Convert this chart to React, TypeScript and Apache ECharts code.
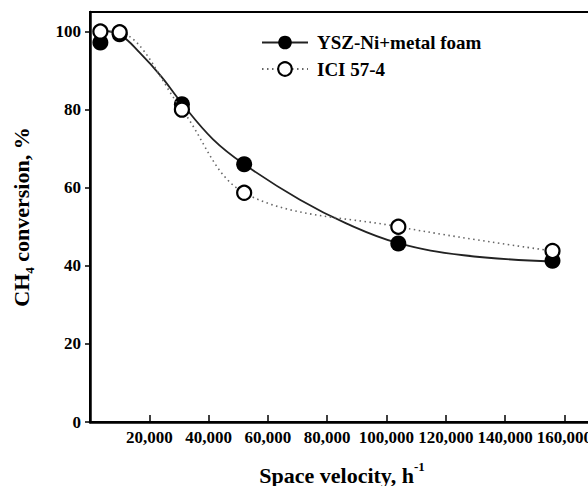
import React, { useEffect, useRef } from "react";
import * as echarts from "echarts";

// Space velocity (h^-1) of the measured points
const spaceVelocity = [3500, 10000, 31000, 52000, 104000, 156000];
// CH4 conversion, %
const foamConversion = [97.2, 99.3, 81.4, 66.0, 45.7, 41.3];
const iciConversion = [100.0, 99.8, 80.0, 58.7, 50.0, 43.8];
// Fitted curve for YSZ-Ni+metal foam
const fitVelocity = [3500, 10000, 17000, 24000, 31000, 41500, 52000, 70800, 86600, 104000, 126000, 156000];
const fitConversion = [100.2, 99.2, 94.4, 88.5, 81.6, 72.4, 66.0, 56.9, 50.8, 45.8, 42.7, 41.1];
// Tick labels
const xTicks = [20000, 40000, 60000, 80000, 100000, 120000, 140000, 160000];
const yTicks = [0, 20, 40, 60, 80, 100];

const FONT = "'Liberation Serif', 'Times New Roman', serif";

export default function App() {
  const ref = useRef<HTMLDivElement>(null);
  useEffect(() => {
    if (!ref.current) return;
    const chart = echarts.init(ref.current, undefined, { renderer: "svg" });
    const zip = (xs: number[], ys: number[]) => xs.map((x, i) => [x, ys[i]]);
    chart.setOption({
      animation: false,
      backgroundColor: "#fff",
      grid: {
        left: 90,
        top: 12,
        right: -6,
        bottom: 64,
        containLabel: false,
        outerBoundsMode: "none",
        show: true,
        borderColor: "#000",
        borderWidth: 2,
        backgroundColor: "transparent",
      },
      legend: {
        left: 261,
        top: 33,
        padding: 0,
        orient: "vertical",
        itemWidth: 46,
        itemHeight: 17,
        itemGap: 7.5,
        data: ["YSZ-Ni+metal foam", "ICI 57-4"],
        textStyle: {
          fontFamily: FONT,
          fontWeight: "bold",
          fontSize: 19,
          lineHeight: 17,
          color: "#000",
          padding: [0, 0, 0, 4],
        },
      },
      xAxis: {
        type: "value",
        min: 0,
        max: 170000,
        interval: 20000,
        name: "Space velocity, h{sup|-1}",
        nameLocation: "middle",
        nameGap: 38,
        nameTextStyle: {
          fontFamily: FONT,
          fontWeight: "bold",
          fontSize: 22,
          color: "#000",
          lineHeight: 30,
          rich: {
            sup: { fontFamily: FONT, fontWeight: "bold", fontSize: 13, verticalAlign: "top", color: "#000", lineHeight: 13 },
          },
        },
        splitLine: { show: false },
        axisLine: { onZero: false, lineStyle: { color: "#000", width: 2.5 } },
        axisTick: { inside: true, length: 7, customValues: xTicks, lineStyle: { color: "#000", width: 1.5 } },
        axisLabel: {
          customValues: xTicks,
          margin: 7,
          fontFamily: FONT,
          fontWeight: "bold",
          fontSize: 17,
          color: "#000",
          formatter: (v: number) => v.toLocaleString("en-US"),
        },
      },
      yAxis: {
        type: "value",
        min: 0,
        max: 105,
        interval: 20,
        name: "CH{sub|4} conversion, %",
        nameLocation: "middle",
        nameGap: 54,
        nameTextStyle: {
          fontFamily: FONT,
          fontWeight: "bold",
          fontSize: 22,
          color: "#000",
          lineHeight: 30,
          rich: {
            sub: { fontFamily: FONT, fontWeight: "bold", fontSize: 13, verticalAlign: "bottom", color: "#000", lineHeight: 13 },
          },
        },
        splitLine: { show: false },
        axisLine: { onZero: false, lineStyle: { color: "#000", width: 2.5 } },
        axisTick: { inside: false, length: 5, customValues: yTicks, lineStyle: { color: "#000", width: 1.5 } },
        axisLabel: {
          customValues: yTicks,
          margin: 9,
          fontFamily: FONT,
          fontWeight: "bold",
          fontSize: 17,
          color: "#000",
        },
      },
      series: [
        {
          name: "YSZ-Ni+metal foam",
          type: "line",
          smooth: 0.4,
          data: zip(fitVelocity, fitConversion),
          symbol: "circle",
          showSymbol: false,
          symbolSize: 15,
          itemStyle: { color: "#000", opacity: 1 },
          lineStyle: { color: "#222", width: 1.8 },
          z: 2,
        },
        {
          name: "foam points",
          type: "scatter",
          data: zip(spaceVelocity, foamConversion),
          symbol: "circle",
          symbolSize: 16,
          itemStyle: { color: "#000", opacity: 1 },
          z: 3,
        },
        {
          name: "ICI 57-4",
          type: "line",
          smooth: 0.35,
          data: zip(spaceVelocity, iciConversion),
          symbol: "circle",
          symbolSize: 14,
          showSymbol: true,
          itemStyle: { color: "#fff", borderColor: "#000", borderWidth: 2.2, opacity: 1 },
          lineStyle: { color: "#666", width: 1.6, type: [1.5, 3.5] },
          z: 4,
        },
      ],
    });
    return () => chart.dispose();
  }, []);
  return (
    <div
      ref={ref}
      style={{ position: "fixed", left: 0, top: 0, width: 588, height: 486, background: "#fff" }}
    />
  );
}
